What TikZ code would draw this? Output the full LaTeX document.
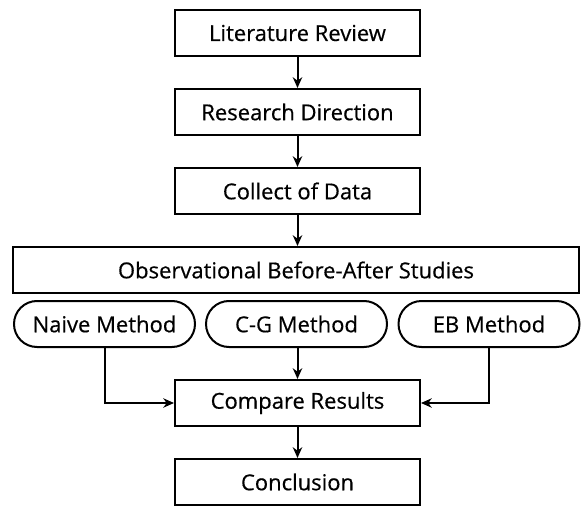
\documentclass[tikz,border=0pt]{standalone}
\usepackage{fontspec}
\setmainfont{Open Sans}[FakeBold=0.5]
\usetikzlibrary{arrows.meta}
\begin{document}
\begin{tikzpicture}[x=0.75pt,y=-0.75pt,
  every node/.style={font=\fontsize{16.5}{18}\selectfont, inner sep=0pt},
  box/.style={draw, line width=1.5pt, minimum width=183.75pt, minimum height=34.5pt},
  widebox/.style={draw, line width=1.5pt, minimum width=424.5pt, minimum height=34.5pt},
  pill/.style={draw, line width=1.5pt, minimum width=135.75pt, minimum height=34.5pt, rounded corners=17.25pt},
  arr/.style={line width=1.5pt, -{Stealth[length=8pt,width=7pt,inset=2.5pt]}}
]
\useasboundingbox (0,0) rectangle (581,506);
\node[box] (lit) at (297.5,33) {Literature Review};
\node[box] (res) at (297.5,112) {Research Direction};
\node[box] (col) at (297.5,191) {Collect of Data};
\node[widebox] (obs) at (296,270) {Observational Before-After Studies};
\node[pill] (naive) at (104.5,324) {Naive Method};
\node[pill] (cg) at (296.5,324) {C-G Method};
\node[pill] (eb) at (489,324) {EB Method};
\node[box] (cmp) at (297.5,403) {Compare Results};
\node[box] (con) at (297.5,482) {Conclusion};
\draw[arr] (lit) -- (res);
\draw[arr] (res) -- (col);
\draw[arr] (col) -- (obs.north -| col);
\draw[arr] (cg.south -| cmp) -- (cmp);
\draw[arr] (naive.south) |- (cmp.west);
\draw[arr] (eb.south) |- (cmp.east);
\draw[arr] (cmp) -- (con);
\end{tikzpicture}
\end{document}
